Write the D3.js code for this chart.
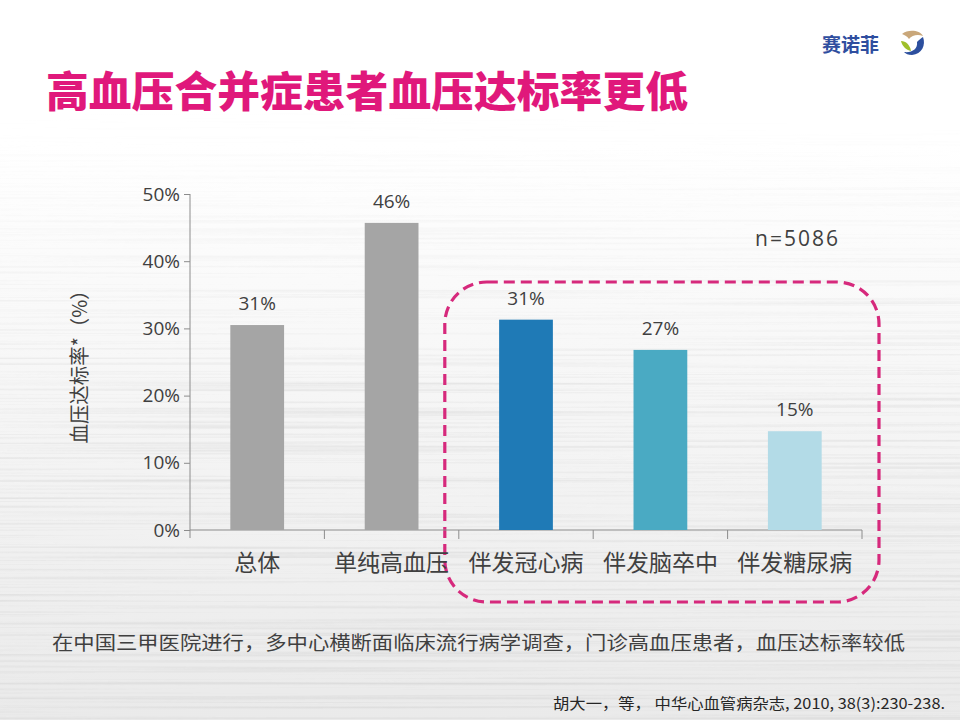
<html>
<head>
    <meta charset="UTF-8">
    <title>高血压合并症患者血压达标率更低</title>
    <script src="https://cdn.jsdelivr.net/npm/d3@7/dist/d3.min.js"></script>
    <style>
        body { margin: 0; background: #fff; }
        text { font-family: "Noto Sans CJK SC", "Noto Sans", sans-serif; }
    </style>
</head>
<body>
    <svg id="mySvg" width="960" height="720"></svg>
    <script>
        // data
        var categories = ["总体", "单纯高血压", "伴发冠心病", "伴发脑卒中", "伴发糖尿病"];
        var rates = [0.305, 0.457, 0.313, 0.268, 0.147];
        var rateLabels = ["31%", "46%", "31%", "27%", "15%"];
        var barColors = ["#a5a5a5", "#a5a5a5", "#1f7ab6", "#4aaac3", "#b3dbe7"];
        var yTicks = [0, 0.1, 0.2, 0.3, 0.4, 0.5];
        var highlighted = ["伴发冠心病", "伴发脑卒中", "伴发糖尿病"];

        var width = 960, height = 720;
        var margin = { top: 194, right: 98, bottom: 190, left: 190 };
        var innerWidth = width - margin.left - margin.right;
        var innerHeight = height - margin.top - margin.bottom;

        var svg = d3.select("#mySvg");
        var defs = svg.append("defs");

        // background: white on top, brushed grey streaks below
        var bg = defs.append("linearGradient").attr("id", "bgGrad")
            .attr("x1", 0).attr("y1", 0).attr("x2", 0).attr("y2", 1);
        bg.append("stop").attr("offset", "0").attr("stop-color", "#ffffff");
        bg.append("stop").attr("offset", "0.2").attr("stop-color", "#ffffff");
        bg.append("stop").attr("offset", "1").attr("stop-color", "#eaeaea");

        var fade = defs.append("linearGradient").attr("id", "fadeGrad")
            .attr("x1", 0).attr("y1", 0).attr("x2", 0).attr("y2", 1);
        fade.append("stop").attr("offset", "0.15").attr("stop-color", "#fff").attr("stop-opacity", 0);
        fade.append("stop").attr("offset", "0.55").attr("stop-color", "#fff").attr("stop-opacity", 0.8);
        fade.append("stop").attr("offset", "1").attr("stop-color", "#fff").attr("stop-opacity", 1);
        defs.append("mask").attr("id", "fadeMask")
            .append("rect").attr("width", width).attr("height", height).attr("fill", "url(#fadeGrad)");

        var streak = defs.append("filter").attr("id", "streaks")
            .attr("x", 0).attr("y", 0).attr("width", 1).attr("height", 1);
        streak.append("feTurbulence").attr("type", "fractalNoise")
            .attr("baseFrequency", "0.0015 0.35").attr("numOctaves", 2).attr("seed", 4);
        streak.append("feColorMatrix").attr("type", "matrix")
            .attr("values", "0 0 0 0 0.55  0 0 0 0 0.55  0 0 0 0 0.55  -1.5 0 0 0 0.8");

        svg.append("rect").attr("width", width).attr("height", height).attr("fill", "url(#bgGrad)");
        svg.append("rect").attr("width", width).attr("height", height)
            .attr("filter", "url(#streaks)").attr("mask", "url(#fadeMask)").attr("opacity", 0.65);

        // title
        svg.append("text")
            .attr("x", 46).attr("y", 107)
            .attr("fill", "#e0187b")
            .attr("font-size", 42).attr("font-weight", 900)
            .attr("textLength", 642).attr("lengthAdjust", "spacingAndGlyphs")
            .text("高血压合并症患者血压达标率更低");

        // logo
        svg.append("text")
            .attr("x", 822).attr("y", 52)
            .attr("fill", "#2f4e9f").attr("font-size", 19).attr("font-weight", 700)
            .text("赛诺菲");
        var logo = svg.append("g").attr("transform", "translate(912,43)");
        logo.append("path").attr("d", "M-10,-9 C-4,-14 8,-13 11,-7 C6,-9 0,-8 -3,-4 C-5,-7 -8,-8 -10,-9 Z").attr("fill", "#c9a77a");
        logo.append("path").attr("d", "M-11,-2 C-6,-2 -2,2 -1,8 C-6,7 -10,3 -11,-2 Z").attr("fill", "#9fbf2a");
        logo.append("path").attr("d", "M11,-6 C14,2 10,11 0,12 C-4,12 -6,11 -8,9 C0,10 6,6 5,-1 C7,-3 9,-5 11,-6 Z").attr("fill", "#2c4f9e");

        var g = svg.append("g").attr("transform", "translate(" + margin.left + "," + margin.top + ")");

        var x = d3.scaleBand().domain(categories).range([0, innerWidth]).paddingInner(0.6).paddingOuter(0.3);
        var xEdges = d3.scaleBand().domain(categories).range([0, innerWidth]).padding(0);
        var y = d3.scaleLinear().domain([0, 0.5]).range([innerHeight, 0]);

        // highlight box around the comorbidity group
        var hx0 = xEdges(highlighted[0]) - 14;
        var hx1 = xEdges(highlighted[highlighted.length - 1]) + xEdges.bandwidth() + 17;
        g.append("rect")
            .attr("x", hx0).attr("y", y(0.5) + 88)
            .attr("width", hx1 - hx0).attr("height", 320)
            .attr("rx", 42).attr("ry", 42)
            .attr("fill", "none").attr("stroke", "#d6297c")
            .attr("stroke-width", 3.2).attr("stroke-dasharray", "11,6");

        // y axis
        var yAxis = d3.axisLeft(y).tickValues(yTicks).tickFormat(d3.format(".0%")).tickSize(6).tickPadding(4);
        var yg = g.append("g").call(yAxis);
        yg.select(".domain").remove();
        yg.append("line").attr("x1", 0).attr("x2", 0).attr("y1", y(0.5)).attr("y2", innerHeight + 8)
            .attr("stroke", "#8c8c8c");
        yg.selectAll(".tick line").attr("stroke", "#8c8c8c");
        yg.selectAll(".tick text").attr("fill", "#404040").attr("font-size", 19)
            .style("font-family", "'Open Sans', sans-serif");

        // x axis
        var xg = g.append("g").attr("transform", "translate(0," + innerHeight + ")");
        xg.append("line").attr("x1", 0).attr("x2", innerWidth).attr("stroke", "#8c8c8c");
        xg.selectAll(".sep").data(categories).enter().append("line")
            .attr("x1", function (d) { return xEdges(d) + xEdges.bandwidth(); })
            .attr("x2", function (d) { return xEdges(d) + xEdges.bandwidth(); })
            .attr("y1", 0).attr("y2", 9).attr("stroke", "#8c8c8c");
        xg.selectAll(".cat").data(categories).enter().append("text")
            .attr("x", function (d) { return x(d) + x.bandwidth() / 2; })
            .attr("y", 41)
            .attr("text-anchor", "middle").attr("fill", "#404040").attr("font-size", 23)
            .text(function (d) { return d; });

        // bars
        g.selectAll(".bar").data(rates).enter().append("rect")
            .attr("x", function (d, i) { return x(categories[i]); })
            .attr("y", function (d) { return y(d); })
            .attr("width", x.bandwidth())
            .attr("height", function (d) { return innerHeight - y(d); })
            .attr("fill", function (d, i) { return barColors[i]; });

        g.selectAll(".val").data(rates).enter().append("text")
            .attr("x", function (d, i) { return x(categories[i]) + x.bandwidth() / 2; })
            .attr("y", function (d) { return y(d) - 15; })
            .attr("text-anchor", "middle").attr("fill", "#404040").attr("font-size", 19)
            .style("font-family", "'Open Sans', sans-serif")
            .text(function (d, i) { return rateLabels[i]; });

        // y axis title
        svg.append("text")
            .attr("transform", "translate(87,362) rotate(-90)")
            .attr("text-anchor", "middle").attr("fill", "#404040").attr("font-size", 20)
            .attr("textLength", 163).attr("lengthAdjust", "spacingAndGlyphs")
            .text("血压达标率*（%）");

        // sample size
        svg.append("text")
            .attr("x", 755).attr("y", 246)
            .attr("fill", "#404040").attr("font-size", 21).attr("letter-spacing", 2)
            .style("font-family", "'Open Sans', sans-serif")
            .text("n=5086");

        // note and citation
        svg.append("text")
            .attr("x", 52).attr("y", 650)
            .attr("fill", "#404040").attr("font-size", 19)
            .attr("textLength", 853).attr("lengthAdjust", "spacingAndGlyphs")
            .text("在中国三甲医院进行，多中心横断面临床流行病学调查，门诊高血压患者，血压达标率较低");
        svg.append("text")
            .attr("x", 553).attr("y", 709)
            .attr("fill", "#262626").attr("font-size", 15)
            .attr("textLength", 392).attr("lengthAdjust", "spacingAndGlyphs")
            .text("胡大一，等， 中华心血管病杂志, 2010, 38(3):230-238.");
    </script>
</body>
</html>
